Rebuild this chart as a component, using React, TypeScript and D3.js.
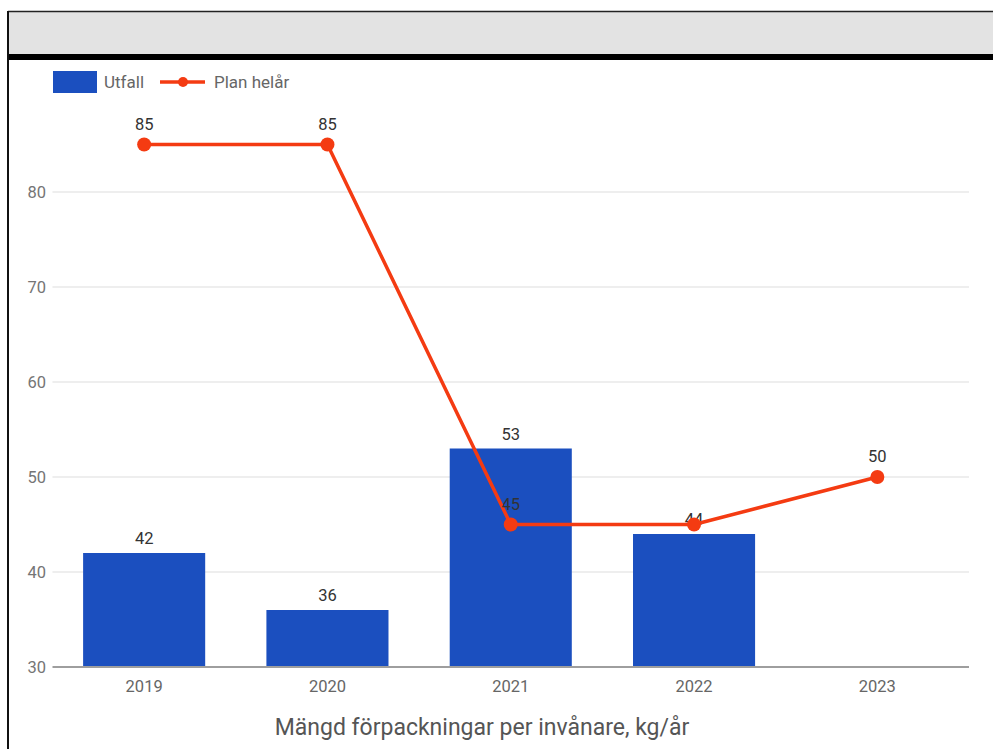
import React from "react";
import * as d3 from "d3";

const years = ["2019", "2020", "2021", "2022", "2023"];
const utfall: (number | null)[] = [42, 36, 53, 44, null];
const plan: number[] = [85, 85, 45, 45, 50];
const planLabelShown: boolean[] = [true, true, true, false, true];
const yTicks = [30, 40, 50, 60, 70, 80];
const axisTitle = "Mängd förpackningar per invånare, kg/år";
const seriesNames = ["Utfall", "Plan helår"];

const W = 993;
const H = 749;
const BLUE = "#1b4fbf";
const RED = "#f43b12";
const FONT = "Roboto, 'Noto Sans', Arial, sans-serif";

export default function App() {
  const x = d3.scaleBand<string>().domain(years).range([52.5, 969]).paddingInner(0.334).paddingOuter(0.167);
  const y = d3.scaleLinear().domain([30, 90]).range([667, 97]);
  const line = d3
    .line<number>()
    .x((_, i) => (x(years[i]) as number) + x.bandwidth() / 2)
    .y((d) => y(d));

  return (
    <svg width={W} height={H} style={{ position: "absolute", left: 0, top: 0, background: "#fff" }}>
      {/* frame */}
      <rect x={8} y={11} width={W - 8} height={44} fill="#e3e3e3" />
      <line x1={8} x2={W} y1={11.5} y2={11.5} stroke="#222" strokeWidth={1.5} />
      <rect x={8} y={54} width={W - 8} height={6} fill="#000" />
      <line x1={8} x2={8} y1={11} y2={H} stroke="#111" strokeWidth={2} />

      {/* legend */}
      <rect x={53} y={71} width={44} height={22} fill={BLUE} />
      <text x={104} y={88} fontFamily={FONT} fontSize={17} fill="#666">{seriesNames[0]}</text>
      <line x1={160} x2={205} y1={82} y2={82} stroke={RED} strokeWidth={3.5} />
      <circle cx={183} cy={82} r={5} fill={RED} />
      <text x={214} y={88} fontFamily={FONT} fontSize={17} fill="#666">{seriesNames[1]}</text>

      {/* gridlines */}
      {yTicks.map((t) => (
        <g key={t}>
          {t !== 30 && (
            <line x1={52.5} x2={969} y1={y(t)} y2={y(t)} stroke="#e8e8e8" strokeWidth={1.5} />
          )}
          <text x={46} y={y(t) + 6} textAnchor="end" fontFamily={FONT} fontSize={16.5} fill="#757575">
            {t}
          </text>
        </g>
      ))}

      {/* bars */}
      {utfall.map((v, i) =>
        v == null ? null : (
          <g key={years[i]}>
            <rect
              x={x(years[i])}
              y={y(v)}
              width={x.bandwidth()}
              height={y(30) - y(v)}
              fill={BLUE}
            />
            <text
              x={(x(years[i]) as number) + x.bandwidth() / 2}
              y={y(v) - 9}
              textAnchor="middle"
              fontFamily={FONT}
              fontSize={16.5}
              fill="#333"
            >
              {v}
            </text>
          </g>
        )
      )}

      {/* baseline */}
      <line x1={52.5} x2={969} y1={y(30)} y2={y(30)} stroke="#9e9e9e" strokeWidth={2} />

      {/* x labels */}
      {years.map((yr) => (
        <text
          key={yr}
          x={(x(yr) as number) + x.bandwidth() / 2}
          y={692}
          textAnchor="middle"
          fontFamily={FONT}
          fontSize={16.5}
          fill="#666"
        >
          {yr}
        </text>
      ))}

      {/* line series */}
      <path d={line(plan) as string} fill="none" stroke={RED} strokeWidth={3.5} strokeLinejoin="round" />
      {plan.map((v, i) => (
        <g key={"p" + i}>
          <circle cx={(x(years[i]) as number) + x.bandwidth() / 2} cy={y(v)} r={7} fill={RED} />
          {planLabelShown[i] && (
            <text
              x={(x(years[i]) as number) + x.bandwidth() / 2}
              y={y(v) - 15}
              textAnchor="middle"
              fontFamily={FONT}
              fontSize={16.5}
              fill="#333"
            >
              {v}
            </text>
          )}
        </g>
      ))}

      {/* axis title */}
      <text x={482} y={735} textAnchor="middle" fontFamily={FONT} fontSize={23} fill="#555">
        {axisTitle}
      </text>
    </svg>
  );
}
